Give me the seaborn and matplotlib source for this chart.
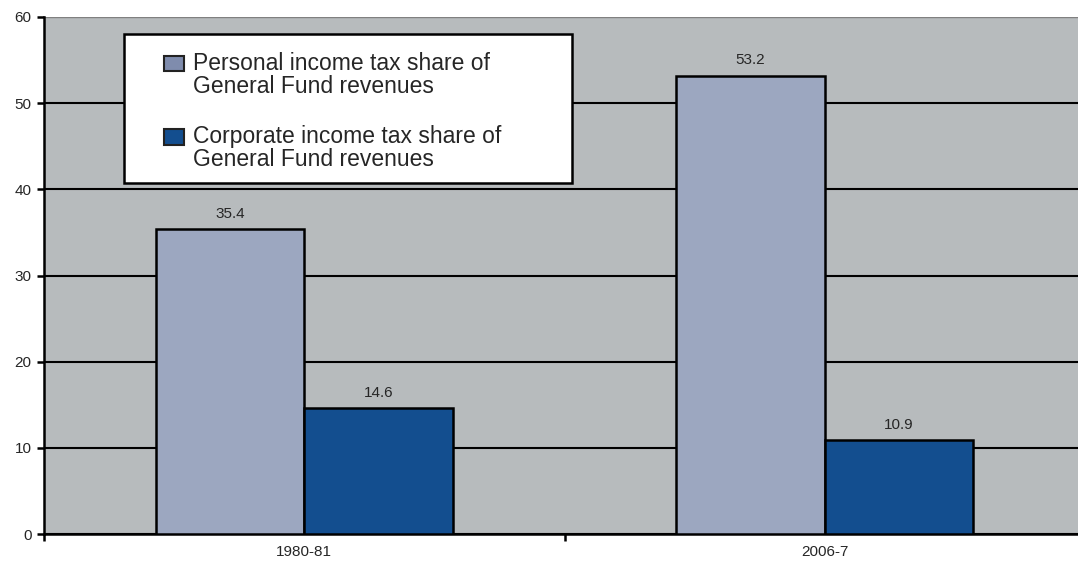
import matplotlib
matplotlib.use("Agg")
import matplotlib.pyplot as plt
import seaborn as sns
import pandas as pd
from matplotlib.ticker import MultipleLocator, FixedLocator
from matplotlib.legend_handler import HandlerPatch

years = ["1980-81", "2006-7"]
series = ["Personal income tax share of\nGeneral Fund revenues",
          "Corporate income tax share of\nGeneral Fund revenues"]
personal = [35.4, 53.2]
corporate = [14.6, 10.9]
colors = ["#9CA7C0", "#134E8F"]

df = pd.DataFrame({
    "year": years * 2,
    "series": [series[0]] * 2 + [series[1]] * 2,
    "value": personal + corporate,
})

sns.set_style("white")
plt.rcParams["font.family"] = ["Liberation Sans", "DejaVu Sans"]

fig = plt.figure(figsize=(10.78, 5.63), dpi=100)
ax = fig.add_axes([44 / 1078, 29 / 563, 1041 / 1078, 517 / 563])
ax.set_facecolor("#B7BBBD")

sns.barplot(data=df, x="year", y="value", hue="series", palette=colors,
            width=0.57, edgecolor="black", linewidth=1.8, saturation=1,
            ax=ax, legend=False, zorder=3)

ax.set_xlim(-0.5, 1.5)
ax.set_ylim(0, 60)
ax.yaxis.set_major_locator(MultipleLocator(10))
ax.grid(axis="y", color="black", linewidth=1.5, zorder=0)
ax.set_axisbelow(True)
ax.set_xlabel("")
ax.set_ylabel("")

for s in ["top", "right"]:
    ax.spines[s].set_visible(False)
ax.spines["left"].set_color("black")
ax.spines["left"].set_linewidth(1.8)
ax.spines["bottom"].set_color("black")
ax.spines["bottom"].set_linewidth(1.8)
ax.axhline(60, color="#808080", linewidth=1.5, zorder=1)

ax.tick_params(axis="y", which="major", length=5, width=1.8, color="black",
               labelsize=11, left=True, pad=4)
ax.tick_params(axis="x", which="major", length=0, labelsize=11, pad=8)
ax.xaxis.set_minor_locator(FixedLocator([-0.5, 0.5, 1.5]))
ax.tick_params(axis="x", which="minor", length=5, width=1.8, color="black",
               bottom=True)

for cont in ax.containers:
    ax.bar_label(cont, fmt="%.1f", padding=6, fontsize=11)

# legend frame
frame = plt.Rectangle(((124 - 44) / 1041, (534 - 183) / 517),
                      (572 - 124) / 1041, (183 - 34) / 517,
                      transform=ax.transAxes, facecolor="white",
                      edgecolor="black", linewidth=1.8, zorder=5)
ax.add_patch(frame)

LEG_FS = 16.5


def raised_patch(legend, orig_handle, xdescent, ydescent, width, height, fontsize):
    return plt.Rectangle((-xdescent, -ydescent + 0.55 * fontsize), width, height)


handles = [plt.Rectangle((0, 0), 1, 1, facecolor=c, edgecolor="#222222",
                         linewidth=1.5) for c in ["#7F8CAD", colors[1]]]
leg = ax.legend(handles, series, loc="upper left",
                bbox_to_anchor=((164 - 44) / 1041, (534 - 52) / 517),
                fontsize=LEG_FS, frameon=False, borderpad=0, labelspacing=1.2,
                handlelength=0.87, handleheight=0.66, handletextpad=0.38,
                borderaxespad=0,
                handler_map={plt.Rectangle: HandlerPatch(patch_func=raised_patch)})
for t in leg.get_texts():
    t.set_linespacing(1.0)
leg.set_zorder(6)

fig.savefig("out.png", dpi=100)
